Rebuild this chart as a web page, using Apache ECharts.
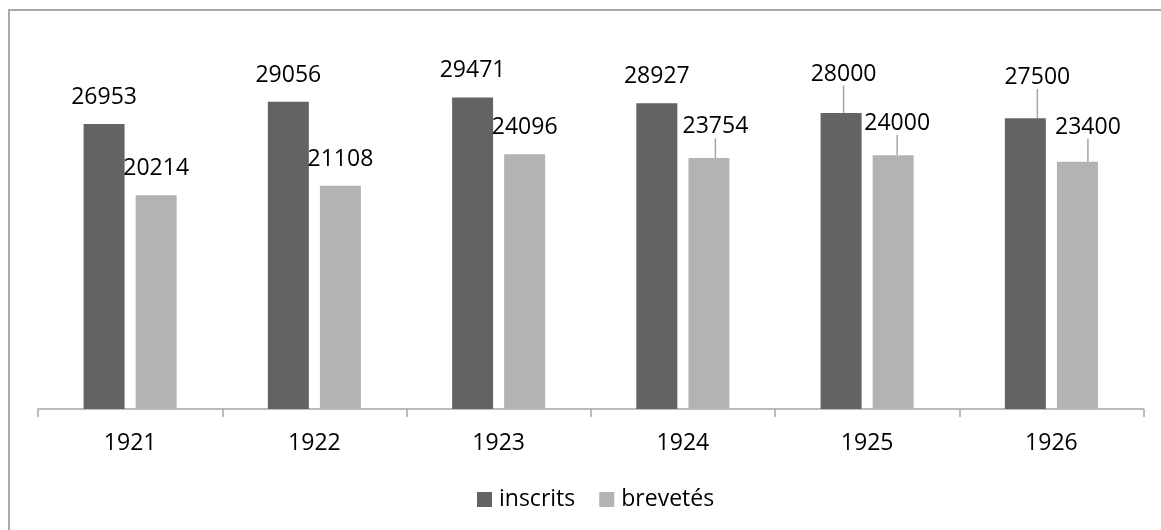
<!DOCTYPE html>
<html>
<head>
<meta charset="utf-8">
<script src="https://cdn.jsdelivr.net/npm/echarts@6/dist/echarts.min.js"></script>
<style>
html,body{margin:0;padding:0;background:#fff;}
#chart{width:1161px;height:530px;}
</style>
</head>
<body>
<div id="chart"></div>
<script>
// ---- data ----
const years = ['1921', '1922', '1923', '1924', '1925', '1926'];
const seriesNames = ['inscrits', 'brevetés'];
const inscrits = [26953, 29056, 29471, 28927, 28000, 27500];
const brevetes = [20214, 21108, 24096, 23754, 24000, 23400];

// ---- label displacement (layout only) ----
const inscritsLabelShift = [[0,0],[0,0],[0,0],[0,0],[2.5,-12.5],[12,-14.5]];
const brevetesLabelShift = [[0,0],[0,0],[0,0],[6.5,-4.5],[4,-5.5],[10.5,-8]];

const FONT = 'Open Sans';
const chart = echarts.init(document.getElementById('chart'), null, {renderer: 'canvas'});

function labelCfg() {
  return {
    show: true, position: 'top', distance: 15,
    color: '#000', fontFamily: FONT, fontSize: 23
  };
}
function shiftLayout(shifts) {
  return function (p) {
    const s = shifts[p.dataIndex];
    const out = { dx: s[0], dy: s[1] };
    if (s[0] !== 0 || s[1] !== 0) {
      const r = p.rect, lr = p.labelRect;
      out.labelLinePoints = [
        [r.x + r.width / 2, r.y],
        [lr.x + lr.width / 2 + s[0], lr.y + lr.height + s[1] + 5]
      ];
    }
    return out;
  };
}
function buildData(values, shifts) {
  return values.map(function (v, i) {
    const moved = shifts[i][0] !== 0 || shifts[i][1] !== 0;
    return {
      value: v,
      labelLine: {show: moved, lineStyle: {color: '#a6a6a6', width: 1.5}}
    };
  });
}

chart.setOption({
  backgroundColor: '#fff',
  animation: false,
  graphic: [{
    type: 'rect', silent: true,
    shape: {x: 9, y: 10, width: 1200, height: 600},
    style: {fill: 'none', stroke: '#a9a9a9', lineWidth: 2}
  }],
  grid: {left: 38, right: 17.5, top: 39, bottom: 121, containLabel: false},
  legend: {
    data: seriesNames,
    left: 477, top: 488, padding: 0,
    itemWidth: 15, itemHeight: 15, itemGap: 24,
    icon: 'rect',
    textStyle: {fontFamily: FONT, fontSize: 23, color: '#000', padding: [0, 0, 0, 2]}
  },
  xAxis: {
    type: 'category', data: years,
    axisLine: {show: true, lineStyle: {color: '#a6a6a6', width: 1.5}},
    axisTick: {show: true, length: 8, lineStyle: {color: '#a6a6a6', width: 1.5}},
    axisLabel: {fontFamily: FONT, fontSize: 23, color: '#000', margin: 23},
    splitLine: {show: false}
  },
  yAxis: {
    type: 'value', min: 0, max: 35000, interval: 5000, show: false,
    splitLine: {show: false}
  },
  series: [
    {
      name: seriesNames[0], type: 'bar', data: buildData(inscrits, inscritsLabelShift),
      barWidth: 41, barGap: '27%',
      itemStyle: {color: '#636363'},
      label: labelCfg(),
      labelLine: {show: false, lineStyle: {color: '#a6a6a6', width: 1.5}},
      labelLayout: shiftLayout(inscritsLabelShift)
    },
    {
      name: seriesNames[1], type: 'bar', data: buildData(brevetes, brevetesLabelShift),
      barWidth: 41, barGap: '27%',
      itemStyle: {color: '#b3b3b3'},
      label: labelCfg(),
      labelLine: {show: false, lineStyle: {color: '#a6a6a6', width: 1.5}},
      labelLayout: shiftLayout(brevetesLabelShift)
    }
  ]
});
</script>
</body>
</html>
